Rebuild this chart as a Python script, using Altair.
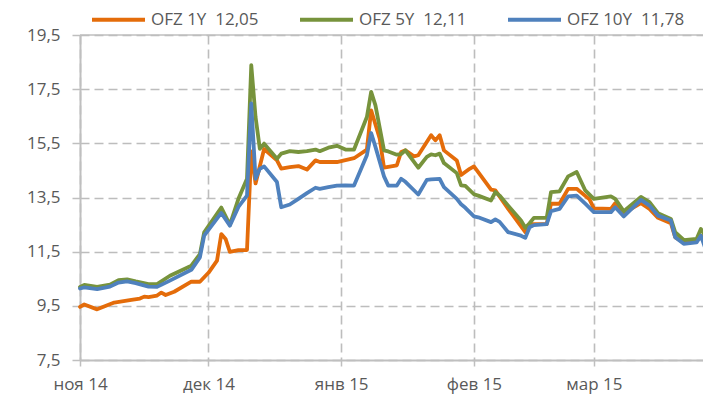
import altair as alt
import pandas as pd

series_names = ["OFZ 1Y\u00a0\u00a012,05", "OFZ 5Y\u00a0\u00a012,11", "OFZ 10Y\u00a0\u00a011,78"]
series_colors = ["#E46C0A", "#77933C", "#4F81BD"]

dates_1y = [
    "2014-11-01", "2014-11-02", "2014-11-05", "2014-11-09", "2014-11-13", "2014-11-15",
    "2014-11-16", "2014-11-17", "2014-11-19", "2014-11-20", "2014-11-21", "2014-11-23",
    "2014-11-27", "2014-11-29", "2014-12-01", "2014-12-03", "2014-12-04", "2014-12-05",
    "2014-12-06", "2014-12-08", "2014-12-10", "2014-12-11", "2014-12-12", "2014-12-14",
    "2014-12-17", "2014-12-18", "2014-12-20", "2014-12-22", "2014-12-24", "2014-12-26",
    "2014-12-27", "2014-12-31", "2015-01-02", "2015-01-04", "2015-01-07", "2015-01-08",
    "2015-01-10", "2015-01-11", "2015-01-14", "2015-01-15", "2015-01-16", "2015-01-18",
    "2015-01-19", "2015-01-22", "2015-01-23", "2015-01-24", "2015-01-25", "2015-01-28",
    "2015-01-29", "2015-01-31", "2015-02-01", "2015-02-02", "2015-02-05", "2015-02-06",
    "2015-02-09", "2015-02-13", "2015-02-14", "2015-02-18", "2015-02-19", "2015-02-21",
    "2015-02-23", "2015-02-25", "2015-02-28", "2015-03-01", "2015-03-05", "2015-03-06",
    "2015-03-08", "2015-03-12", "2015-03-14", "2015-03-16", "2015-03-19", "2015-03-20",
    "2015-03-22", "2015-03-25", "2015-03-26", "2015-03-27", "2015-03-28",
]
ofz_1y = [
    9.46, 9.55, 9.37, 9.62, 9.72, 9.77,
    9.84, 9.82, 9.88, 9.99, 9.90, 10.02,
    10.39, 10.39, 10.72, 11.17, 12.15, 11.97,
    11.49, 11.56, 11.56, 15.20, 14.02, 15.29,
    14.87, 14.57, 14.62, 14.66, 14.53, 14.87,
    14.81, 14.81, 14.88, 14.95, 15.27, 16.72,
    15.67, 14.60, 14.69, 15.18, 15.24, 15.02,
    15.06, 15.80, 15.61, 15.80, 15.24, 14.87,
    14.33, 14.56, 14.65, 14.44, 13.79, 13.76,
    13.08, 12.22, 12.52, 12.52, 13.27, 13.27,
    13.82, 13.82, 13.43, 13.10, 13.08, 13.29,
    12.92, 13.29, 13.08, 12.75, 12.55, 12.03,
    11.84, 11.91, 12.09, 12.03, 12.05,
]

dates_5y_10y = [
    "2014-11-01", "2014-11-02", "2014-11-05", "2014-11-08", "2014-11-10", "2014-11-12",
    "2014-11-14", "2014-11-17", "2014-11-19", "2014-11-22", "2014-11-27", "2014-11-29",
    "2014-11-30", "2014-12-04", "2014-12-06", "2014-12-08", "2014-12-10", "2014-12-11",
    "2014-12-12", "2014-12-13", "2014-12-14", "2014-12-17", "2014-12-18", "2014-12-20",
    "2014-12-22", "2014-12-24", "2014-12-26", "2014-12-27", "2014-12-29", "2014-12-31",
    "2015-01-02", "2015-01-04", "2015-01-07", "2015-01-08", "2015-01-09", "2015-01-11",
    "2015-01-12", "2015-01-14", "2015-01-15", "2015-01-16", "2015-01-19", "2015-01-21",
    "2015-01-22", "2015-01-23", "2015-01-24", "2015-01-25", "2015-01-28", "2015-01-29",
    "2015-01-30", "2015-02-01", "2015-02-02", "2015-02-05", "2015-02-06", "2015-02-07",
    "2015-02-09", "2015-02-12", "2015-02-13", "2015-02-14", "2015-02-15", "2015-02-18",
    "2015-02-19", "2015-02-21", "2015-02-23", "2015-02-25", "2015-02-27", "2015-03-01",
    "2015-03-05", "2015-03-06", "2015-03-08", "2015-03-12", "2015-03-14", "2015-03-16",
    "2015-03-19", "2015-03-20", "2015-03-22", "2015-03-25", "2015-03-26", "2015-03-27",
    "2015-03-28",
]
ofz_5y = [
    10.20, 10.27, 10.20, 10.28, 10.45, 10.48,
    10.40, 10.30, 10.30, 10.61, 10.98, 11.41,
    12.21, 13.13, 12.49, 13.45, 14.19, 18.39,
    16.47, 15.30, 15.49, 14.93, 15.12, 15.21,
    15.18, 15.21, 15.27, 15.21, 15.34, 15.41,
    15.27, 15.27, 16.47, 17.40, 16.90, 15.24,
    15.20, 15.08, 15.10, 15.24, 14.60, 15.00,
    15.09, 15.06, 15.12, 14.77, 14.40, 13.95,
    13.93, 13.62, 13.57, 13.39, 13.70, 13.57,
    13.20, 12.65, 12.38, 12.55, 12.75, 12.75,
    13.70, 13.73, 14.28, 14.44, 13.76, 13.45,
    13.54, 13.45, 12.99, 13.52, 13.33, 12.92,
    12.71, 12.22, 11.93, 11.97, 12.34, 12.09,
    12.11,
]
ofz_10y = [
    10.14, 10.18, 10.12, 10.21, 10.36, 10.40,
    10.34, 10.21, 10.20, 10.43, 10.83, 11.29,
    12.09, 12.93, 12.46, 13.15, 13.57, 16.97,
    14.19, 14.56, 14.65, 14.07, 13.14, 13.24,
    13.45, 13.66, 13.86, 13.82, 13.88, 13.94,
    13.95, 13.94, 15.06, 15.88, 15.37, 14.28,
    13.94, 13.94, 14.19, 14.08, 13.61, 14.15,
    14.17, 14.18, 14.19, 13.88, 13.45, 13.25,
    13.12, 12.80, 12.77, 12.59, 12.69, 12.60,
    12.22, 12.09, 12.01, 12.40, 12.48, 12.52,
    13.00, 13.08, 13.54, 13.57, 13.27, 12.96,
    12.96, 13.14, 12.80, 13.41, 13.20, 12.83,
    12.65, 12.03, 11.79, 11.84, 12.09, 11.64,
    11.78,
]

y_ticks = [7.5, 9.5, 11.5, 13.5, 15.5, 17.5, 19.5]
month_ticks = [(2014, 11), (2014, 12), (2015, 1), (2015, 2), (2015, 3)]
month_names = ["янв", "фев", "мар", "апр", "май", "июн", "июл", "авг", "сен", "окт", "ноя", "дек"]

rows = []
for d, v in zip(dates_1y, ofz_1y):
    rows.append({"date": d, "value": v, "series": series_names[0], "k": 0})
for d, v in zip(dates_5y_10y, ofz_5y):
    rows.append({"date": d, "value": v, "series": series_names[1], "k": 1})
for d, v in zip(dates_5y_10y, ofz_10y):
    rows.append({"date": d, "value": v, "series": series_names[2], "k": 2})
df = pd.DataFrame(rows)

FONT = "Open Sans"
TXT = "#595959"
GRID = "#BDBDBD"
PLOT_W = 623

month_expr = "[" + ",".join("'%s'" % m for m in month_names) + "]"

x_axis = alt.Axis(
    values=[alt.DateTime(year=y, month=m, date=1, utc=True) for y, m in month_ticks],
    labelExpr=month_expr + "[utcmonth(datum.value)] + ' ' + (utcyear(datum.value) % 100)",
    grid=True, gridDash=[9, 5], gridColor=GRID, gridWidth=1.6, gridOpacity=1,
    domainColor="#BFBFBF", domainWidth=2,
    tickColor="#BFBFBF", tickSize=6, tickWidth=1.5,
    labelFont=FONT, labelFontSize=17, labelColor=TXT, labelPadding=10,
    labelFlush=False, title=None,
)
y_axis = alt.Axis(
    values=y_ticks,
    labelExpr="replace(format(datum.value, '.1f'), '.', ',')",
    grid=True, gridDash=[9, 5], gridColor=GRID, gridWidth=1.6, gridOpacity=1,
    domainColor="#BFBFBF", domainWidth=2,
    tickColor="#BFBFBF", tickSize=8, tickWidth=1.5,
    labelFont=FONT, labelFontSize=17, labelColor=TXT, labelPadding=12,
    title=None,
)

lines = alt.Chart(df).mark_line(strokeWidth=3.8, strokeJoin="round", strokeCap="round").encode(
    x=alt.X("date:T", axis=x_axis,
            scale=alt.Scale(type="utc", domain=[
                alt.DateTime(year=2014, month=11, date=1, utc=True),
                alt.DateTime(year=2015, month=3, date=26, hours=12, utc=True)])),
    y=alt.Y("value:Q", axis=y_axis, scale=alt.Scale(domain=[7.5, 19.5], nice=False, zero=False)),
    color=alt.Color("series:N", scale=alt.Scale(domain=series_names, range=series_colors),
                    legend=alt.Legend(
                        orient="none", legendX=10, legendY=-44, direction="horizontal",
                        title=None, symbolType="stroke", symbolSize=2809, symbolStrokeWidth=4,
                        labelFont=FONT, labelFontSize=17, labelColor=TXT, labelOffset=4,
                        columnPadding=33, padding=0)),
    order=alt.Order("k:Q"),
)

# solid top border of the plot area
top_rule = alt.Chart(pd.DataFrame({"v": [0]})).mark_rule(color="#BFBFBF", strokeWidth=1.6).encode(
    y=alt.value(0), x=alt.value(0), x2=alt.value(PLOT_W)
)

chart = alt.layer(lines, top_rule).properties(
    width=PLOT_W, height=325,
    padding={"left": 72, "top": 27, "right": 0, "bottom": 36},
    autosize=alt.AutoSizeParams(type="none"),
).configure_view(stroke=None)

chart.save("out.html", embed_options={"renderer": "svg", "actions": False})
